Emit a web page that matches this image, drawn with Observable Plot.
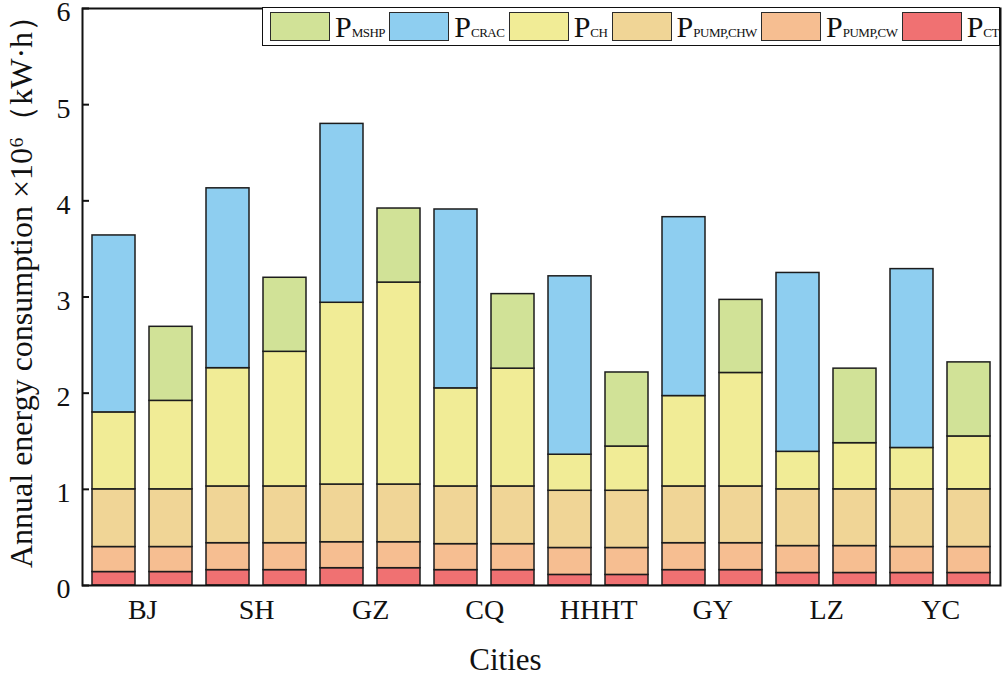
<!DOCTYPE html>
<html>
<head>
<meta charset="utf-8">
<script src="https://cdn.jsdelivr.net/npm/d3@7"></script>
<script src="https://cdn.jsdelivr.net/npm/@observablehq/plot@0.6"></script>
<style>
  body { margin: 0; background: #fff; }
  #wrap { position: relative; width: 1005px; height: 676px; font-family: "Liberation Serif", "Times New Roman", serif; }
  #legend { position: absolute; left: 262px; top: 7px; width: 738px; height: 39px; border: 1.5px solid #111; box-sizing: border-box;
            display: flex; align-items: center; justify-content: space-between; padding-left: 7px; padding-right: 0; background: #fff; color: #111; }
  .item { display: flex; align-items: center; }
  .sw { width: 60px; height: 29px; border: 1.5px solid #2a2a2a; box-sizing: border-box; }
  .lb { font-size: 30px; margin-left: 5px; line-height: 1; white-space: nowrap; }
  .lb sub { font-size: 13px; vertical-align: baseline; letter-spacing: -0.5px; }
</style>
</head>
<body>
<div id="wrap">
  <div id="chart"></div>
  <div id="legend"></div>
</div>
<script>
// ---- data (×10^6 kW·h) ----
const cities = ["BJ", "SH", "GZ", "CQ", "HHHT", "GY", "LZ", "YC"];
const systems = ["CRAC", "MSHP"];
const pCT      = [0.14, 0.16, 0.18, 0.16, 0.11, 0.16, 0.13, 0.13];
const pPumpCW  = [0.26, 0.28, 0.27, 0.27, 0.28, 0.28, 0.28, 0.27];
const pPumpCHW = [0.60, 0.59, 0.60, 0.60, 0.595, 0.59, 0.59, 0.60];
const pCH_CRAC = [0.80, 1.23, 1.89, 1.02, 0.375, 0.94, 0.39, 0.43];
const pCH_MSHP = [0.92, 1.40, 2.10, 1.225, 0.46, 1.18, 0.48, 0.55];
const pCRAC    = [1.84, 1.87, 1.86, 1.86, 1.855, 1.86, 1.86, 1.86];
const pMSHP    = [0.77, 0.77, 0.77, 0.775, 0.77, 0.76, 0.775, 0.77];
const yTicks = [0, 1, 2, 3, 4, 5, 6];
const yTitle = "Annual energy consumption ×10⁶（kW·h）";
const xTitle = "Cities";

// components, bottom -> top stacking order
const comps = ["CT", "PUMP,CW", "PUMP,CHW", "CH", "CRAC", "MSHP"];
const compColors = ["#f07172", "#f6be91", "#f0d596", "#f1ec96", "#8ecef0", "#d1e297"];
const legendOrder = ["MSHP", "CRAC", "CH", "PUMP,CHW", "PUMP,CW", "CT"];

// ---- long table ----
const rows = [];
const keys = [];
cities.forEach((c, i) => {
  systems.forEach(s => {
    const key = c + "|" + s;
    keys.push(key);
    rows.push({key, comp: "CT", value: pCT[i]});
    rows.push({key, comp: "PUMP,CW", value: pPumpCW[i]});
    rows.push({key, comp: "PUMP,CHW", value: pPumpCHW[i]});
    rows.push({key, comp: "CH", value: s === "CRAC" ? pCH_CRAC[i] : pCH_MSHP[i]});
    rows.push(s === "CRAC" ? {key, comp: "CRAC", value: pCRAC[i]} : {key, comp: "MSHP", value: pMSHP[i]});
  });
});
const firstKeys = cities.map(c => c + "|" + systems[0]);

const W = 1005, H = 676, mL = 82, mR = 5, mT = 8, mB = 91;
const step = (W - mL - mR) / keys.length;

const chart = Plot.plot({
  width: W, height: H,
  marginLeft: mL, marginRight: mR, marginTop: mT, marginBottom: mB,
  style: {fontFamily: "'Liberation Serif', 'Times New Roman', serif", color: "#111", background: "#fff"},
  x: {domain: keys, paddingInner: 0.25, paddingOuter: 0.125, axis: null, label: null},
  y: {domain: [0, 6], axis: null, label: null},
  color: {domain: comps, range: compColors},
  marks: [
    Plot.barY(rows, Plot.stackY({order: comps}, {x: "key", y: "value", z: "comp", fill: "comp", stroke: "#1c1c1c", strokeWidth: 1.5})),
    Plot.frame({stroke: "#111", strokeWidth: 2}),
    Plot.axisY({ticks: yTicks, tickSize: -7, tickFormat: () => "", strokeWidth: 2, label: null}),
    Plot.axisY({ticks: yTicks, tickSize: 0, tickPadding: 12, dy: 4, fontSize: 28, tickFormat: d3.format("d"), label: null}),
    Plot.axisX({ticks: firstKeys, tickFormat: k => k.split("|")[0], tickSize: 0, tickPadding: 14, dx: step / 2, fontSize: 28, label: null}),
    Plot.text([yTitle], {frameAnchor: "left", text: d => d, rotate: -90, dx: -61, dy: -13, fontSize: 32, lineAnchor: "middle", textAnchor: "middle", fill: "#111"}),
    Plot.text([xTitle], {frameAnchor: "bottom", text: d => d, dx: -36, dy: 75, fontSize: 31, lineAnchor: "middle", textAnchor: "middle", fill: "#111"})
  ]
});
document.getElementById("chart").appendChild(chart);

// ---- legend ----
const leg = document.getElementById("legend");
legendOrder.forEach(c => {
  const it = document.createElement("div");
  it.className = "item";
  const sw = document.createElement("div");
  sw.className = "sw";
  sw.style.background = compColors[comps.indexOf(c)];
  const lb = document.createElement("span");
  lb.className = "lb";
  lb.innerHTML = "P<sub>" + c + "</sub>";
  it.appendChild(sw); it.appendChild(lb);
  leg.appendChild(it);
});
</script>
</body>
</html>
